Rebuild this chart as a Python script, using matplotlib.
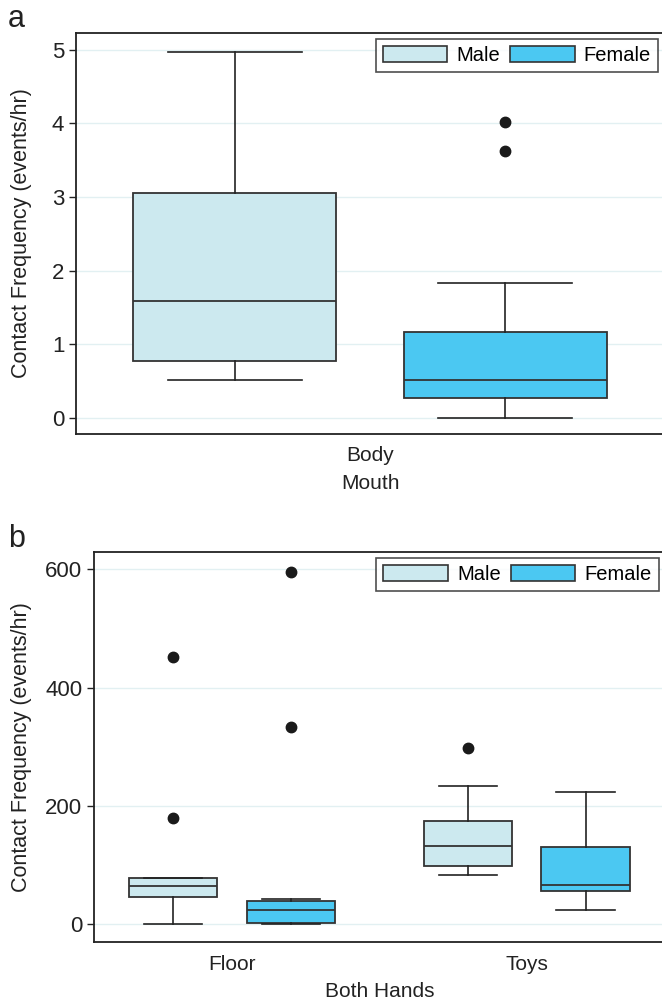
import numpy as np
import matplotlib.pyplot as plt
import matplotlib.transforms as mtransforms

plt.rcParams['font.family'] = ['Liberation Sans', 'DejaVu Sans']

# panel a: Mouth / Body
a_cats = ["Body"]
a_male = {"whislo": [0.52], "q1": [0.77], "med": [1.59], "q3": [3.06], "whishi": [4.97]}
a_male_fliers = [[]]
a_female = {"whislo": [0.0], "q1": [0.27], "med": [0.52], "q3": [1.17], "whishi": [1.83]}
a_female_fliers = [[4.02, 3.63]]

# panel b: Both Hands / Floor, Toys
b_cats = ["Floor", "Toys"]
b_male = {"whislo": [0, 83], "q1": [46, 98], "med": [64, 133], "q3": [79, 175], "whishi": [79, 233]}
b_male_fliers = [[452, 180], [298]]
b_female = {"whislo": [0, 25], "q1": [2, 57], "med": [25, 66], "q3": [40, 130], "whishi": [42, 224]}
b_female_fliers = [[595, 334], []]

male_col = "#cce9ef"
female_col = "#4bc8f2"
edge = "#333333"
grid_col = "#e2f0f2"
txt = "#222222"


def stats_list(d, fliers):
    out = []
    for i in range(len(d["med"])):
        out.append({k: d[k][i] for k in d} | {"fliers": fliers[i]})
    return out


def draw(ax, cats, male, mfl, female, ffl, off, width):
    x = np.arange(len(cats))
    for st, fl, col, sgn in [(male, mfl, male_col, -1), (female, ffl, female_col, 1)]:
        ax.bxp(stats_list(st, fl), positions=x + sgn * off, widths=width,
               patch_artist=True, showfliers=True,
               boxprops=dict(facecolor=col, edgecolor=edge, linewidth=1.3),
               medianprops=dict(color=edge, linewidth=1.3),
               whiskerprops=dict(color=txt, linewidth=1.2),
               capprops=dict(color=txt, linewidth=1.2),
               capwidths=width * 0.66,
               flierprops=dict(marker="o", markerfacecolor="#1a1a1a",
                               markeredgecolor="#1a1a1a", markersize=7.5))
    ax.set_xticks(x)
    ax.set_xticklabels(cats)
    ax.tick_params(axis="x", length=0, labelsize=15, pad=9, colors=txt)
    ax.tick_params(axis="y", length=5, width=1, labelsize=16, colors=txt)
    ax.yaxis.grid(True, color=grid_col, linewidth=1)
    ax.set_axisbelow(True)
    for s in ["left", "bottom", "top"]:
        ax.spines[s].set_linewidth(1.3)
        ax.spines[s].set_color(txt)
    ax.spines["right"].set_visible(False)
    ax.set_ylabel("Contact Frequency (events/hr)", fontsize=15.5, color=txt)
    # both y labels sit at the same distance from the figure edge
    tr = mtransforms.blended_transform_factory(ax.figure.transFigure, ax.transAxes)
    ax.yaxis.set_label_coords(0.049, 0.5, transform=tr)
    handles = [plt.Rectangle((0, 0), 1, 1, facecolor=male_col, edgecolor=edge, linewidth=1.2),
               plt.Rectangle((0, 0), 1, 1, facecolor=female_col, edgecolor=edge, linewidth=1.2)]
    leg = ax.legend(handles, ["Male", "Female"], loc="upper right", ncol=2,
                    fontsize=14.5, frameon=True, fancybox=False, edgecolor=txt,
                    handlelength=3.2, handleheight=0.85, columnspacing=0.5,
                    handletextpad=0.45, borderpad=0.35, borderaxespad=0.3)
    leg.get_frame().set_linewidth(1.2)


fig = plt.figure(figsize=(6.62, 9.99), dpi=100)

ax1 = fig.add_axes([0.115, 0.5656, 0.888, 0.4014])
draw(ax1, a_cats, a_male, a_male_fliers, a_female, a_female_fliers, 0.23, 0.345)
ax1.set_xlim(-0.5, 0.5)
ax1.set_ylim(-0.22, 5.23)
ax1.set_yticks([0, 1, 2, 3, 4, 5])
ax1.set_xlabel("Mouth", fontsize=15, color=txt, labelpad=6)

ax2 = fig.add_axes([0.142, 0.057, 0.862, 0.3904])
draw(ax2, b_cats, b_male, b_male_fliers, b_female, b_female_fliers, 0.2, 0.3)
ax2.set_xlim(-0.468, 1.468)
ax2.set_ylim(-30, 629)
ax2.set_yticks([0, 200, 400, 600])
ax2.set_xlabel("Both Hands", fontsize=15, color=txt, labelpad=6)

fig.text(0.012, 0.981, "a", fontsize=22, color=txt, va="center")
fig.text(0.012, 0.460, "b", fontsize=22, color=txt, va="center")

fig.savefig("out.png", dpi=100)
